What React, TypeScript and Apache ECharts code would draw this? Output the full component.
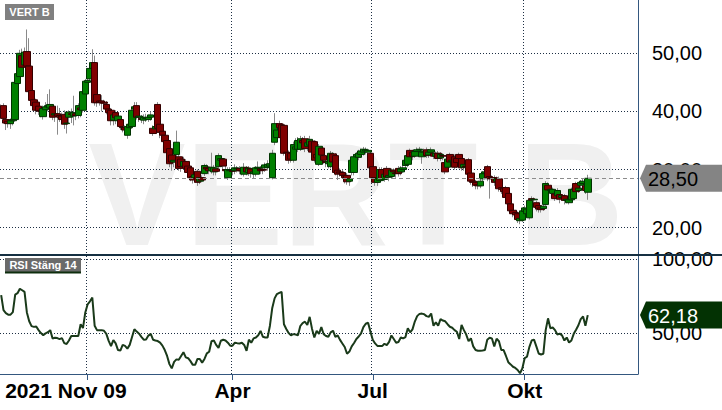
import React, { useEffect, useRef } from 'react';
import * as echarts from 'echarts';

const ticker = 'VERT B';
const rsiTitle = 'RSI Stäng 14';
const SLOTS = 273;
const gridDayIdx = [37, 99, 159, 224];
const xTickLabels = [
  { i: 0, label: '2021 Nov 09' },
  { i: 99, label: 'Apr' },
  { i: 159, label: 'Jul' },
  { i: 224, label: 'Okt' },
];
const priceTicks = [20, 30, 40, 50];
const rsiTicks = [50, 100];
const priceRange = [15.13, 59.17];
const rsiRange = [22.3, 102.2];

// [open, close, low, high]
const candles: number[][] = [
  [40.6, 40.2, 39.6, 41.2], [41.0, 38.8, 38.2, 41.4], [38.6, 38.0, 36.8, 39.0], [38.3, 37.9, 37.2, 38.6], [37.9, 38.4, 37.0, 38.8],
  [38.4, 38.6, 37.6, 39.2], [38.6, 45.0, 38.2, 45.6], [44.8, 46.5, 44.0, 47.5], [46.0, 50.0, 45.5, 50.6], [49.6, 47.6, 46.8, 50.8],
  [48.0, 50.2, 47.5, 51.0], [50.3, 47.8, 47.2, 54.1], [47.8, 43.4, 43.0, 52.6], [43.6, 41.9, 41.2, 44.5], [42.0, 41.0, 40.2, 42.8],
  [41.6, 40.2, 39.5, 42.2], [40.9, 40.1, 39.4, 41.5], [40.2, 40.0, 39.0, 40.8], [39.1, 40.5, 38.6, 41.0], [40.3, 40.8, 39.5, 41.6],
  [40.8, 41.0, 40.0, 43.0], [40.6, 41.2, 39.8, 43.8], [40.9, 39.0, 38.5, 41.2], [39.4, 39.6, 38.2, 40.2], [39.6, 39.2, 36.0, 41.0],
  [39.3, 39.0, 38.2, 40.6], [39.2, 38.6, 37.8, 39.8], [39.5, 37.8, 37.0, 40.2], [37.9, 38.0, 36.2, 38.6], [39.0, 39.9, 38.0, 40.2],
  [39.6, 39.5, 38.0, 40.5], [39.2, 39.8, 37.6, 42.7], [39.6, 39.3, 38.5, 40.2], [39.3, 41.0, 38.8, 41.4], [40.6, 40.3, 39.0, 41.0],
  [40.2, 43.4, 39.8, 43.8], [43.0, 45.2, 42.8, 45.6], [45.0, 45.3, 44.5, 46.0], [45.6, 47.4, 45.0, 47.8], [47.4, 48.4, 46.6, 50.7],
  [48.4, 41.5, 41.0, 49.6], [42.9, 41.5, 40.8, 43.4], [41.8, 41.6, 41.0, 42.2], [41.8, 41.5, 40.0, 42.8], [41.6, 41.4, 40.6, 42.0],
  [41.2, 40.4, 39.5, 41.8], [40.4, 39.8, 39.2, 40.8], [40.2, 38.4, 37.6, 40.6], [38.5, 39.4, 37.6, 40.0], [39.8, 38.9, 37.8, 40.2],
  [38.4, 39.2, 37.8, 39.6], [38.6, 37.4, 36.8, 39.0], [37.3, 37.2, 36.4, 38.0], [37.2, 36.8, 36.0, 37.6], [35.9, 37.4, 35.3, 37.8],
  [37.2, 37.8, 36.6, 38.4], [37.4, 40.2, 37.0, 40.8], [40.4, 40.8, 39.6, 41.6], [41.0, 39.0, 38.6, 41.6], [39.0, 39.2, 38.2, 39.6],
  [38.8, 38.6, 38.0, 39.4], [38.5, 39.0, 37.8, 39.5], [38.8, 38.9, 38.2, 39.6], [38.6, 39.0, 38.2, 39.4], [39.0, 39.4, 38.4, 40.0],
  [37.1, 36.2, 35.8, 37.6], [37.0, 37.4, 36.2, 38.0], [41.2, 37.1, 36.8, 41.6], [37.8, 36.4, 35.4, 38.2], [36.6, 35.9, 35.2, 37.0],
  [35.9, 34.8, 34.0, 36.6], [35.0, 32.9, 32.2, 35.4], [33.6, 31.0, 30.4, 34.0], [32.5, 31.3, 29.8, 33.0], [31.3, 31.6, 30.4, 32.2],
  [32.6, 34.7, 31.2, 36.7], [32.2, 30.2, 29.8, 33.8], [31.8, 30.5, 29.6, 32.2], [30.6, 31.4, 30.0, 32.2], [31.4, 30.2, 29.6, 31.8],
  [30.6, 29.5, 28.8, 31.0], [30.3, 28.6, 28.0, 30.6], [28.8, 28.2, 27.6, 29.2], [28.6, 29.1, 27.8, 29.5], [29.7, 27.8, 27.2, 30.0],
  [28.0, 28.6, 27.5, 29.0], [28.6, 28.2, 27.8, 29.0], [29.3, 30.7, 28.9, 31.0], [30.4, 30.1, 29.4, 30.9], [30.2, 29.8, 29.2, 30.6],
  [29.8, 30.4, 29.3, 32.9], [29.6, 30.3, 29.0, 30.8], [30.1, 29.7, 29.0, 30.5], [30.5, 32.4, 30.0, 32.8], [31.6, 31.9, 30.6, 32.2],
  [31.8, 30.6, 30.0, 32.0], [30.0, 29.8, 29.0, 30.6], [28.6, 30.0, 28.2, 30.4], [29.8, 29.9, 29.0, 30.4], [29.8, 29.7, 29.0, 30.2],
  [29.8, 30.3, 29.2, 30.9], [30.1, 30.2, 29.5, 30.6], [30.2, 29.8, 29.2, 30.6], [29.8, 29.8, 29.0, 30.4], [29.2, 30.4, 28.8, 31.1],
  [30.3, 29.6, 29.0, 30.6], [29.5, 30.2, 28.9, 30.6], [30.1, 29.3, 28.6, 30.4], [29.3, 29.6, 28.4, 30.0], [29.2, 30.3, 28.8, 30.6],
  [30.2, 30.4, 29.4, 31.4], [30.1, 29.8, 29.2, 30.6], [30.0, 29.9, 29.2, 30.4], [30.3, 30.8, 29.6, 31.2], [30.4, 30.9, 29.8, 31.6],
  [30.6, 31.0, 30.2, 31.8], [28.6, 32.8, 28.3, 33.4], [34.7, 37.9, 34.2, 39.7], [35.5, 36.8, 35.0, 38.0], [37.9, 37.2, 36.4, 38.4],
  [37.7, 35.5, 35.0, 38.0], [37.6, 32.8, 32.4, 37.9], [33.0, 32.9, 32.0, 33.8], [32.9, 31.6, 31.0, 33.3], [32.8, 31.8, 31.2, 33.4],
  [31.6, 34.3, 31.2, 34.8], [33.5, 33.9, 32.8, 35.4], [33.5, 35.0, 33.0, 35.6], [33.5, 35.3, 33.2, 35.8], [35.0, 34.6, 33.8, 35.6],
  [35.3, 33.6, 33.0, 35.8], [34.0, 34.6, 33.2, 35.0], [34.2, 35.2, 33.8, 35.8], [34.9, 33.0, 32.4, 35.2], [34.8, 31.6, 31.2, 35.0],
  [32.6, 32.0, 31.4, 33.0], [30.9, 34.0, 30.6, 34.4], [33.7, 32.5, 32.0, 34.0], [32.4, 31.6, 31.0, 32.8], [31.4, 31.2, 30.4, 31.8],
  [31.0, 31.4, 30.2, 31.8], [30.5, 32.8, 30.2, 33.2], [32.7, 31.3, 30.8, 33.0], [32.4, 29.5, 29.0, 32.8], [29.9, 29.2, 28.2, 30.4],
  [29.6, 29.4, 28.8, 30.2], [29.5, 29.0, 28.4, 30.0], [29.0, 28.6, 27.6, 29.4], [29.0, 27.9, 27.4, 29.4], [28.0, 28.4, 27.2, 28.8],
  [29.5, 31.6, 29.0, 32.0], [29.5, 32.2, 29.0, 32.6], [32.2, 32.6, 31.5, 33.0], [32.1, 32.8, 31.6, 33.4], [32.6, 33.2, 32.0, 33.6],
  [33.0, 33.5, 32.4, 33.9], [33.2, 33.4, 32.6, 33.8], [33.0, 33.3, 32.4, 33.6], [32.8, 30.3, 29.8, 33.2], [30.5, 28.6, 28.0, 30.8],
  [28.6, 27.8, 27.2, 29.0], [27.8, 28.4, 27.2, 28.8], [28.1, 30.0, 27.8, 30.4], [30.0, 28.4, 28.0, 30.4], [28.3, 29.2, 27.9, 29.6],
  [30.2, 28.7, 28.2, 30.6], [28.7, 29.0, 28.0, 29.6], [28.8, 29.9, 28.4, 30.2], [29.9, 29.6, 28.8, 30.2], [29.4, 29.3, 28.6, 29.8],
  [30.2, 29.3, 28.8, 30.6], [29.6, 30.1, 29.0, 30.6], [30.0, 30.3, 29.4, 30.8], [30.7, 31.6, 30.2, 32.0], [30.9, 32.4, 30.4, 32.8],
  [33.3, 32.2, 31.8, 33.6], [33.0, 32.3, 31.6, 33.4], [32.3, 33.1, 32.0, 33.5], [33.1, 33.4, 32.6, 33.8], [33.4, 33.5, 32.9, 33.9],
  [32.2, 33.0, 31.0, 33.4], [33.0, 33.2, 32.4, 33.6], [33.4, 32.4, 32.0, 33.8], [32.5, 33.0, 32.0, 33.4], [33.0, 33.4, 32.6, 33.8],
  [32.8, 32.3, 31.8, 33.2], [32.3, 32.8, 31.8, 33.1], [32.8, 31.9, 31.4, 33.2], [32.0, 32.6, 31.5, 33.0], [32.4, 32.3, 31.6, 32.8],
  [31.2, 29.6, 29.2, 31.6], [30.4, 31.8, 30.0, 32.2], [32.6, 31.3, 30.8, 32.9], [31.4, 31.6, 30.8, 32.0], [32.2, 30.4, 30.0, 32.6],
  [31.9, 31.2, 30.3, 32.2], [32.6, 31.9, 31.2, 32.9], [31.9, 30.3, 29.8, 32.2], [30.4, 30.9, 29.8, 31.2], [30.6, 30.5, 29.8, 31.0],
  [31.7, 29.2, 28.8, 32.0], [29.4, 28.0, 27.4, 29.8], [28.0, 27.8, 27.0, 28.6], [27.8, 27.3, 26.6, 28.2], [27.4, 27.2, 26.6, 27.9],
  [27.2, 28.0, 26.8, 28.4], [28.4, 29.3, 28.0, 29.7], [29.3, 29.6, 28.6, 30.0], [30.5, 28.6, 28.0, 30.8], [28.8, 28.4, 25.0, 29.2],
  [28.6, 28.5, 27.8, 29.0], [28.6, 27.8, 27.2, 29.0], [28.0, 28.4, 27.4, 28.8], [28.4, 26.7, 26.2, 28.8], [26.9, 26.6, 25.8, 27.2],
  [26.8, 26.2, 25.6, 27.0], [26.9, 25.2, 24.6, 27.2], [25.9, 24.1, 23.6, 26.2], [24.1, 22.9, 22.4, 24.4], [23.0, 22.4, 21.8, 23.4],
  [22.6, 22.2, 21.6, 23.0], [22.4, 21.4, 20.8, 22.8], [21.2, 21.6, 20.6, 22.0], [21.3, 22.9, 21.0, 23.2], [22.8, 23.4, 22.0, 23.8],
  [22.4, 23.2, 21.8, 23.6], [21.7, 24.7, 21.4, 25.0], [25.0, 24.8, 24.2, 25.4], [24.8, 24.9, 24.0, 25.2], [24.3, 23.5, 22.8, 24.6],
  [23.8, 23.2, 22.6, 24.2], [23.4, 23.1, 22.6, 23.8], [23.3, 23.7, 22.9, 24.0], [24.0, 27.6, 23.8, 28.0], [27.3, 26.5, 26.0, 27.8],
  [26.4, 26.6, 25.8, 27.0], [25.9, 26.6, 25.4, 26.9], [25.8, 25.0, 24.6, 26.2], [25.5, 26.4, 25.2, 26.8], [25.7, 24.9, 24.2, 26.0],
  [25.2, 25.5, 24.6, 25.8], [25.5, 24.7, 24.0, 25.8], [24.7, 24.9, 24.2, 25.2], [24.3, 24.8, 24.0, 25.2], [24.8, 26.6, 24.6, 26.9],
  [25.0, 26.6, 24.8, 27.0], [27.6, 26.2, 25.8, 27.9], [26.4, 26.8, 26.0, 27.2], [27.3, 27.8, 26.8, 28.2], [27.6, 28.0, 27.0, 28.4],
  [27.2, 26.4, 25.8, 27.6], [26.1, 28.5, 24.8, 29.1],
];

const rsi: number[] = [
  75.7, 65.5, 63.5, 62.5, 62.5, 64.2, 76, 77, 80, 79,
  77.9, 64, 58, 54.7, 54.2, 54.5, 52, 50, 48.6, 49.8,
  50.6, 52, 46.4, 46.8, 46.6, 45.9, 46.6, 43.2, 42.6, 45,
  48, 48, 48, 48, 56, 53.4, 64, 69.5, 71.5, 74.1,
  55, 52, 52, 52, 51.6, 49.5, 44.7, 41.2, 45.3, 43,
  38.5, 38.2, 42, 41.3, 39.5, 42, 47.3, 52.6, 51, 49.6,
  47.5, 45.5, 45.7, 48.3, 49.5, 45.5, 45, 44.6, 43.5, 41.5,
  38.5, 34.5, 29, 26.1, 30.5, 32.2, 32, 34.5, 37, 33.6,
  33, 31, 28.5, 28.5, 32.5, 32.5, 30, 32.5, 36.3, 37.4,
  44.5, 45, 42, 40, 44.8, 45.5, 45, 43.5, 41.5, 41.5,
  43.5, 43.2, 43, 43.5, 42, 38, 45.5, 43.5, 46.4, 47,
  48.5, 51.5, 47.5, 47, 47, 55, 67, 73.5, 76.4, 77.2,
  77.9, 56, 52.8, 50, 48.5, 49.3, 49, 48.6, 54.8, 56.8,
  57.7, 55.5, 61, 53, 47, 51.5, 49.5, 54, 49.2, 48,
  47.5, 50.5, 51.6, 47.5, 48.4, 45.4, 43, 40.6, 36, 37.5,
  41, 43.3, 46, 47.7, 49.8, 54, 56.3, 57, 51, 45.5,
  43, 41.3, 41.2, 41.2, 42.8, 41.8, 44, 48.4, 46, 43.5,
  44, 47, 46.4, 47.3, 53.2, 50.5, 52.5, 57.8, 61.5, 63,
  63.2, 62.8, 61.5, 61, 63.3, 55, 57.2, 55, 59.5, 58.5,
  58, 56, 54.3, 53.6, 52, 50.9, 46, 55.5, 52, 49,
  44.5, 46.5, 41, 38.5, 38, 38, 38.2, 38.5, 45.5, 46.8,
  46.4, 41, 46.2, 44.5, 38.5, 38.5, 34.5, 30.3, 28.8, 27.2,
  26.4, 25, 22.8, 26, 33, 34, 40.5, 45, 45.6, 41,
  36.2, 35.5, 36, 52, 60, 53.3, 53.8, 52, 49, 49.6,
  48.5, 45, 47, 43.6, 45, 49.5, 52.3, 55.3, 59.5, 61.2,
  55, 62.18,
];

const FONT = '"Liberation Sans", Arial, Helvetica, sans-serif';
const fmt = (v: number) => v.toFixed(2).replace('.', ',');

export default function App() {
  const ref = useRef<HTMLDivElement>(null);
  useEffect(() => {
    const chart = echarts.init(ref.current!, null, { renderer: 'svg' });
    const categories = Array.from({ length: SLOTS }, (_, i) => String(i));
    const bodies = candles.map(([o, c]) => [o, c, Math.min(o, c), Math.max(o, c)]);
    const lastClose = candles[candles.length - 1][1];
    const lastRsi = rsi[rsi.length - 1];
    const axisColor = '#34577f';
    const gridLine = { show: true, lineStyle: { color: '#1d2f44', type: [1, 2], width: 1 } };
    const labelIdx = xTickLabels.map((t) => t.i);
    const isGrid = (i: number) => gridDayIdx.includes(i);

    chart.setOption({
      animation: false,
      grid: [
        { left: 0, top: 0, width: 638, height: 256, containLabel: false, outerBoundsMode: 'none' },
        { left: 0, top: 256, width: 638, height: 118, containLabel: false, outerBoundsMode: 'none' },
      ],
      xAxis: [
        {
          type: 'category', gridIndex: 0, data: categories, boundaryGap: true,
          axisLine: { show: false }, axisTick: { show: false }, axisLabel: { show: false },
          splitLine: { ...gridLine, interval: isGrid },
        },
        {
          type: 'category', gridIndex: 1, data: categories, boundaryGap: true,
          axisLine: { show: true, lineStyle: { color: axisColor, width: 1 } },
          axisTick: { show: true, alignWithLabel: true, length: 6, interval: isGrid, lineStyle: { color: axisColor } },
          axisLabel: {
            show: true,
            interval: (i: number) => labelIdx.includes(i),
            formatter: (_v: string, i: number) => {
              const t = xTickLabels.find((x) => x.i === i);
              if (!t) return '';
              return i === 0 ? `{first|${t.label}}` : t.label;
            },
            alignMinLabel: 'left',
            fontFamily: FONT, fontWeight: 'bold', fontSize: 21, color: '#000', margin: 6,
            rich: { first: { fontFamily: FONT, fontWeight: 'bold', fontSize: 21, color: '#000', padding: [0, 0, 0, 4] } },
          },
          splitLine: { ...gridLine, interval: isGrid },
        },
      ],
      yAxis: [
        {
          type: 'value', gridIndex: 0, position: 'right', min: priceRange[0], max: priceRange[1],
          minInterval: 10, maxInterval: 10,
          axisLine: { show: true, lineStyle: { color: axisColor, width: 1 } },
          axisTick: { show: false, customValues: priceTicks },
          axisLabel: { customValues: priceTicks, formatter: fmt, fontFamily: FONT, fontSize: 20, color: '#000', margin: 14 },
          splitLine: gridLine,
        },
        {
          type: 'value', gridIndex: 1, position: 'right', min: rsiRange[0], max: rsiRange[1],
          minInterval: 50, maxInterval: 50,
          axisLine: { show: true, lineStyle: { color: axisColor, width: 1 } },
          axisTick: { show: false, customValues: rsiTicks },
          axisLabel: { customValues: rsiTicks, formatter: fmt, fontFamily: FONT, fontSize: 20, color: '#000', margin: 14 },
          splitLine: gridLine,
        },
      ],
      series: [
        {
          type: 'candlestick', name: 'wicks', xAxisIndex: 0, yAxisIndex: 0, data: candles, barWidth: 1, silent: true, z: 2,
          itemStyle: { color: '#8a8a8a', color0: '#8a8a8a', borderColor: '#8a8a8a', borderColor0: '#8a8a8a', borderColorDoji: '#8a8a8a', borderWidth: 1 },
        },
        {
          type: 'candlestick', name: ticker, xAxisIndex: 0, yAxisIndex: 0, data: bodies, barWidth: 7, barMaxWidth: 30, z: 3,
          itemStyle: { color: '#008000', color0: '#800000', borderColor: '#003300', borderColor0: '#330000', borderColorDoji: '#330000', borderWidth: 1 },
          markLine: {
            silent: true, symbol: 'none', label: { show: false },
            lineStyle: { color: '#8c8c8c', type: [4, 3], width: 1 },
            data: [{ yAxis: lastClose }],
          },
        },
        {
          type: 'line', name: rsiTitle, xAxisIndex: 1, yAxisIndex: 1, data: rsi, showSymbol: false, symbol: 'none',
          lineStyle: { color: '#1a3a1a', width: 2 }, z: 3,
        },
      ],
    });

    const yPrice = chart.convertToPixel({ yAxisIndex: 0 }, lastClose) as number;
    const yRsi = chart.convertToPixel({ yAxisIndex: 1 }, lastRsi) as number;
    const tag = (y: number, fill: string) => ({
      type: 'polygon', z: 100,
      shape: { points: [[640, y], [646, y - 13.5], [722, y - 13.5], [722, y + 13.5], [646, y + 13.5]] },
      style: { fill },
    });
    const txt = (text: string, x: number, y: number, size: number, fill: string, weight: string, align: string) => ({
      type: 'text', z: 101, silent: true,
      style: { text, x, y, fill, fontSize: size, fontFamily: FONT, fontWeight: weight, align, verticalAlign: 'middle', textAlign: align, textVerticalAlign: 'middle' },
    });

    chart.setOption({
      graphic: [
        {
          type: 'text', z: -10, silent: true,
          style: { text: ticker, x: 356, y: 194, fill: '#f0f0f0', fontSize: 146, fontWeight: 'bold', fontFamily: FONT, align: 'center', verticalAlign: 'middle', textAlign: 'center', textVerticalAlign: 'middle' },
        },
        { type: 'line', z: 100, silent: true, shape: { x1: 0, y1: 255, x2: 722, y2: 255 }, style: { stroke: '#163042', lineWidth: 2 } },
        { type: 'rect', z: 100, silent: true, shape: { x: 5, y: 4, width: 49, height: 16 }, style: { fill: '#808080' } },
        txt(ticker, 29.5, 12.2, 11, '#ffffff', 'bold', 'center'),
        { type: 'rect', z: 100, silent: true, shape: { x: 5, y: 258, width: 76, height: 15 }, style: { fill: '#6a6a6a' } },
        { type: 'line', z: 101, silent: true, shape: { x1: 5, y1: 272.5, x2: 81, y2: 272.5 }, style: { stroke: '#0e2e0e', lineWidth: 2 } },
        txt(rsiTitle, 43, 265.2, 11, '#ffffff', 'bold', 'center'),
        tag(yPrice, '#848484'),
        txt(fmt(lastClose), 648, yPrice + 0.5, 20, '#000000', 'normal', 'left'),
        tag(yRsi, '#033203'),
        txt(fmt(lastRsi), 648, yRsi + 0.5, 20, '#ffffff', 'normal', 'left'),
      ],
    });

    return () => chart.dispose();
  }, []);

  return (
    <div
      ref={ref}
      style={{ position: 'absolute', left: 0, top: 0, width: 722, height: 410, background: '#ffffff' }}
    />
  );
}
